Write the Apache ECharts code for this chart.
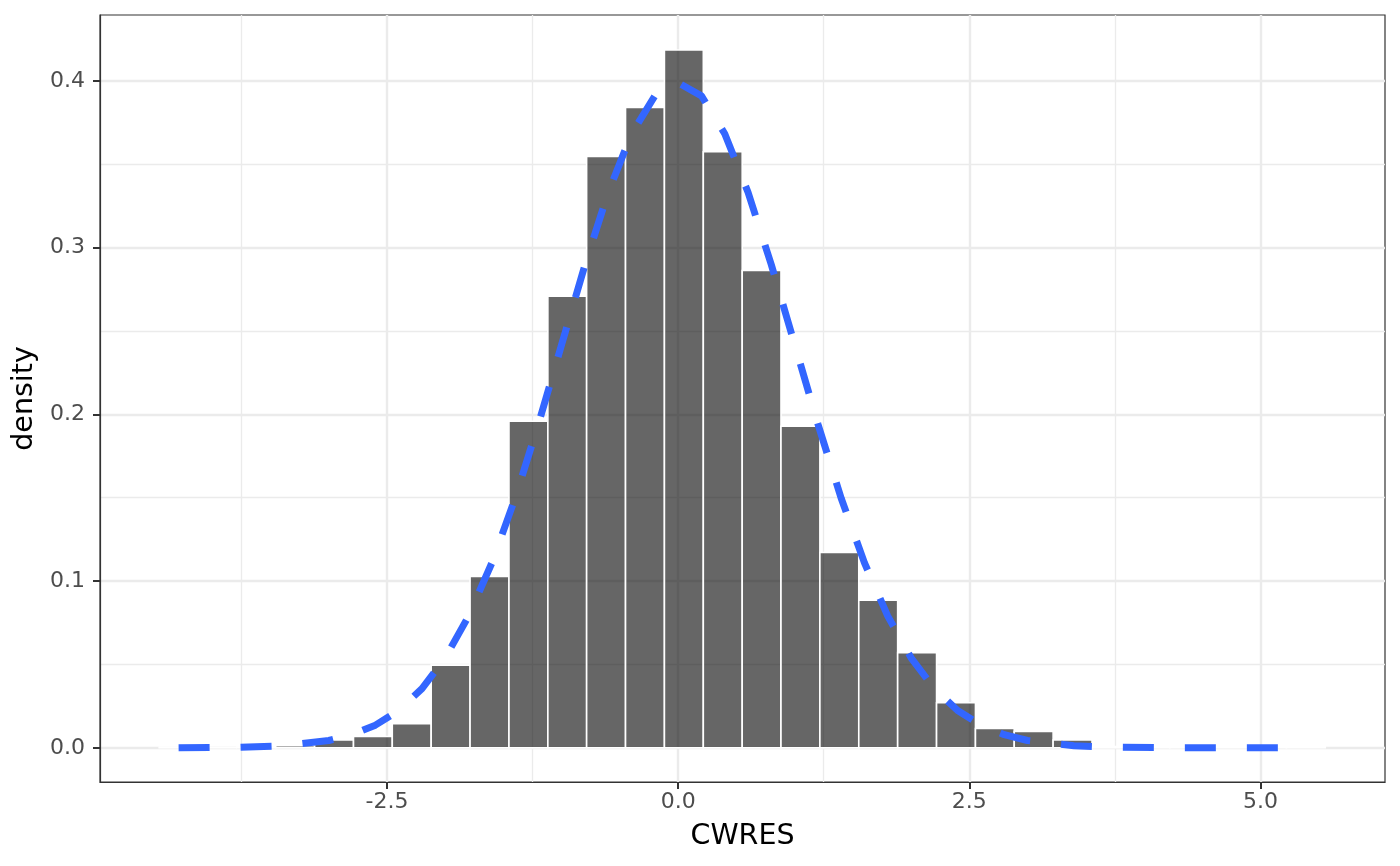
<!DOCTYPE html>
<html>
<head>
<meta charset="utf-8">
<script src="https://cdn.jsdelivr.net/npm/echarts@6/dist/echarts.min.js"></script>
<style>
  html, body { margin: 0; padding: 0; background: #fff; }
  #main { width: 1400px; height: 866px; }
</style>
</head>
<body>
<div id="main"></div>
<script>
// histogram bins (left / right edges) and density per bin
var binLeft = [-4.457, -4.124, -3.790, -3.456, -3.122, -2.788, -2.455, -2.121, -1.787, -1.453,
               -1.119, -0.786, -0.452, -0.118, 0.216, 0.550, 0.883, 1.217, 1.551, 1.885,
               2.219, 2.553, 2.886, 3.220, 3.554, 3.888, 4.222, 4.555, 4.889, 5.223];
var binRight = [-4.124, -3.790, -3.456, -3.122, -2.788, -2.455, -2.121, -1.787, -1.453, -1.119,
                -0.786, -0.452, -0.118, 0.216, 0.550, 0.883, 1.217, 1.551, 1.885, 2.219,
                2.553, 2.886, 3.220, 3.554, 3.888, 4.222, 4.555, 4.889, 5.223, 5.557];
var binDensity = [0.0003, 0, 0.0004, 0.0012, 0.0047, 0.0068, 0.0144, 0.0496, 0.1028, 0.1959,
                  0.2709, 0.3547, 0.3841, 0.4185, 0.3575, 0.2863, 0.1929, 0.1171, 0.0885, 0.0571,
                  0.0270, 0.0116, 0.0098, 0.0047, 0.0008, 0.0008, 0.0008, 0.0008, 0.0008, 0.0008];

// dashed density curve
var curveX = [-4.29, -3.8, -3.4, -3.0, -2.8, -2.6, -2.4, -2.2, -2.0, -1.8, -1.6, -1.4, -1.2, -1.0,
              -0.8, -0.6, -0.4, -0.2, 0.0, 0.2, 0.4, 0.6, 0.8, 1.0, 1.2, 1.4, 1.6, 1.8, 2.0,
              2.2, 2.4, 2.6, 2.8, 3.0, 3.4, 3.8, 4.3, 4.8, 5.39];
var curveY = [0.0000, 0.0003, 0.0012, 0.0044, 0.0079, 0.0136, 0.0224, 0.0355, 0.0540, 0.0790,
              0.1109, 0.1497, 0.1942, 0.2420, 0.2897, 0.3332, 0.3683, 0.3910, 0.3989, 0.3910,
              0.3683, 0.3332, 0.2897, 0.2420, 0.1942, 0.1497, 0.1109, 0.0790, 0.0540, 0.0355,
              0.0224, 0.0136, 0.0079, 0.0044, 0.0012, 0.0003, 0.0000, 0.0000, 0.0000];

// axis ticks
var xMajor = [-2.5, 0, 2.5, 5];
var xMinor = [-3.75, -1.25, 1.25, 3.75];
var yMajor = [0, 0.1, 0.2, 0.3, 0.4];
var yMinor = [0.05, 0.15, 0.25, 0.35];

var xMin = -4.965, xMax = 6.07;
var yMin = -0.0205, yMax = 0.4395;

var chartDom = document.getElementById('main');
var myChart = echarts.init(chartDom);
var option;

var bars = [];
for (var i = 0; i < binLeft.length; i++) {
    bars.push([binLeft[i], binRight[i], binDensity[i]]);
}
var curve = [];
for (var j = 0; j < curveX.length; j++) {
    curve.push([curveX[j], curveY[j]]);
}

var font = 'DejaVu Sans';
var fmt = function (v) { return Number(v).toFixed(1); };

option = {
    backgroundColor: '#ffffff',
    animation: false,
    grid: {
        left: 100,
        right: 15,
        top: 15,
        bottom: 84,
        show: true,
        backgroundColor: '#ffffff',
        borderColor: '#333333',
        borderWidth: 1.2
    },
    xAxis: [{
        type: 'value',
        min: xMin,
        max: xMax,
        name: 'CWRES',
        nameLocation: 'middle',
        nameGap: 40,
        nameTextStyle: { fontFamily: font, fontSize: 28.5, color: '#000000' },
        axisLine: { show: true, onZero: false, lineStyle: { color: '#333333', width: 1.2 } },
        axisTick: { show: true, length: 7, customValues: xMajor, lineStyle: { color: '#333333', width: 2 } },
        axisLabel: { customValues: xMajor, formatter: fmt, margin: 9, fontFamily: font, fontSize: 22, color: '#4D4D4D' },
        splitLine: { show: true, lineStyle: { color: '#EBEBEB', width: 2.4 } }
    }, {
        type: 'value',
        min: xMin,
        max: xMax,
        axisLine: { show: false },
        axisTick: { show: false, customValues: xMinor },
        axisLabel: { show: false },
        splitLine: { show: true, lineStyle: { color: '#EBEBEB', width: 1.3 } }
    }],
    yAxis: [{
        type: 'value',
        min: yMin,
        max: yMax,
        name: 'density',
        nameLocation: 'middle',
        nameRotate: 90,
        nameGap: 58,
        nameTextStyle: { fontFamily: font, fontSize: 28.5, color: '#000000' },
        axisLine: { show: true, onZero: false, lineStyle: { color: '#333333', width: 1.2 } },
        axisTick: { show: true, length: 7, customValues: yMajor, lineStyle: { color: '#333333', width: 2 } },
        axisLabel: { customValues: yMajor, formatter: fmt, margin: 15, fontFamily: font, fontSize: 22, color: '#4D4D4D' },
        splitLine: { show: true, lineStyle: { color: '#EBEBEB', width: 2.4 } }
    }, {
        type: 'value',
        min: yMin,
        max: yMax,
        axisLine: { show: false },
        axisTick: { show: false, customValues: yMinor },
        axisLabel: { show: false },
        splitLine: { show: true, lineStyle: { color: '#EBEBEB', width: 1.3 } }
    }],
    series: [{
        name: 'histogram',
        type: 'custom',
        xAxisIndex: 0,
        yAxisIndex: 0,
        z: 2,
        encode: { x: [0, 1], y: 2 },
        data: bars,
        renderItem: function (params, api) {
            var p0 = api.coord([api.value(0), api.value(2)]);
            var p1 = api.coord([api.value(1), 0]);
            return {
                type: 'rect',
                shape: { x: p0[0], y: p0[1], width: p1[0] - p0[0], height: p1[1] - p0[1] },
                style: { fill: 'rgba(0,0,0,0.6)', stroke: '#ffffff', lineWidth: 1.6 }
            };
        }
    }, {
        name: 'normal',
        type: 'line',
        xAxisIndex: 0,
        yAxisIndex: 0,
        z: 3,
        showSymbol: false,
        data: curve,
        lineStyle: { color: '#3366FF', width: 7, type: [31, 31], cap: 'butt' }
    }]
};

option && myChart.setOption(option);
</script>
</body>
</html>
